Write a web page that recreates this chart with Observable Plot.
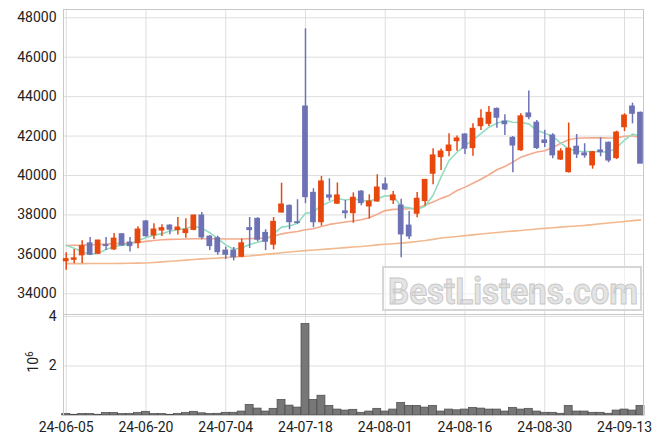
<!DOCTYPE html>
<html><head><meta charset="utf-8">
<script src="https://cdn.jsdelivr.net/npm/d3@7"></script>
<script src="https://cdn.jsdelivr.net/npm/@observablehq/plot@0.6"></script>
<style>
body{margin:0;background:#fff;}
#wrap{position:relative;width:663px;height:444px;font-family:Roboto,sans-serif;overflow:hidden;}
#wrap > svg{display:block;position:absolute;left:0;}
#wm{position:absolute;left:0;top:0;pointer-events:none;}
</style></head><body><div id="wrap"></div>
<script>
const dates = [
"2024-06-05","2024-06-07","2024-06-10","2024-06-11","2024-06-12","2024-06-13","2024-06-14","2024-06-17","2024-06-18","2024-06-19",
"2024-06-20","2024-06-21","2024-06-24","2024-06-25","2024-06-26","2024-06-27","2024-06-28","2024-07-01","2024-07-02","2024-07-03",
"2024-07-04","2024-07-05","2024-07-08","2024-07-09","2024-07-10","2024-07-11","2024-07-12","2024-07-15","2024-07-16","2024-07-17",
"2024-07-18","2024-07-19","2024-07-22","2024-07-23","2024-07-24","2024-07-25","2024-07-26","2024-07-29","2024-07-30","2024-07-31",
"2024-08-01","2024-08-02","2024-08-05","2024-08-06","2024-08-07","2024-08-08","2024-08-09","2024-08-12","2024-08-13","2024-08-14",
"2024-08-16","2024-08-19","2024-08-20","2024-08-21","2024-08-22","2024-08-23","2024-08-26","2024-08-27","2024-08-28","2024-08-29",
"2024-08-30","2024-09-02","2024-09-03","2024-09-04","2024-09-05","2024-09-06","2024-09-09","2024-09-10","2024-09-11","2024-09-12",
"2024-09-13","2024-09-19","2024-09-20"];
const opens = [
35650,35720,35950,36560,36030,36470,36250,37020,36600,36570,
37670,36960,37210,37460,37230,37080,37240,37970,36900,36820,
36190,36190,35880,37330,37800,37090,36490,38120,38460,37630,
43500,39120,37630,38990,38570,38180,38090,39180,38430,38680,
39550,38740,38480,37460,38060,38700,40090,40930,41240,41740,
42080,41390,42500,42620,43380,42730,41910,41280,43150,42680,
41780,42030,40810,40170,41460,41120,40510,41270,41660,40880,
42450,43500,43180];
const highs = [
36080,36250,36690,36860,36720,36850,37060,37050,36860,37400,
37720,37550,37500,37500,37870,37810,38000,38120,36960,36920,
36370,36350,36780,37870,37860,37250,37870,39610,38510,38770,
47440,39330,39950,39830,39620,38730,39120,39240,39020,40040,
39870,39190,38800,38170,39140,39800,41360,41350,42120,42000,
42120,42620,43330,43500,43430,43080,41980,43130,44280,42790,
42300,42120,41360,42660,42080,41610,41220,41910,41700,42250,
43130,43670,43220];
const lows = [
35200,35530,35540,35940,36000,36200,36190,36420,36120,36280,
36870,36750,36910,36990,36980,36820,37200,36740,36200,35950,
35740,35670,35830,36300,36640,36190,36230,38100,37250,37530,
38570,37350,37430,38700,38530,37800,37580,38460,37790,38650,
39240,38530,35830,36760,37860,38450,39530,40250,40950,41230,
41070,40980,42280,42480,42400,42030,40140,41230,42830,41320,
41420,40850,40760,40120,40860,40880,40320,40950,40650,40810,
42230,42620,40600];
const closes = [
35760,35800,36420,35980,36700,36420,36800,36450,36420,37260,
36920,37260,37330,37250,37360,37250,37970,36860,36420,36110,
35980,35850,36560,37230,36740,36640,37650,38530,37630,37590,
38900,37630,39700,38880,38990,38090,38870,38600,38680,39390,
39290,38990,37010,36910,38820,39780,41020,41220,41520,41880,
41360,42370,42880,43180,42930,42600,41520,43000,42960,41390,
41650,41020,41220,41360,41070,41020,41180,41190,40760,42180,
43040,43130,40600];
const volumes = [
60000,30000,60000,60000,30000,100000,100000,60000,60000,100000,
150000,60000,60000,30000,60000,100000,150000,90000,60000,70000,
110000,110000,160000,430000,280000,160000,270000,630000,400000,320000,
3700000,630000,800000,390000,240000,200000,230000,110000,160000,270000,
160000,240000,510000,390000,390000,320000,390000,160000,240000,210000,
240000,310000,280000,240000,240000,160000,310000,240000,270000,160000,
110000,110000,70000,390000,160000,160000,110000,110000,70000,200000,
240000,200000,390000];
const ma5 = [
36460,36310,36130,36000,36060,36250,36390,36470,36520,36700,
36840,36980,37040,37180,37260,37310,37430,37330,37100,36800,
36480,36260,36320,36500,36620,36720,37040,37380,37440,37580,
38080,38150,38480,38650,38830,38760,38820,38740,38700,38820,
38970,38960,38430,38360,38280,38440,39000,39920,40760,41180,
41520,41810,42120,42450,42650,42790,42700,42690,42620,42280,
42150,41980,41640,41350,41230,41220,41220,41190,41200,41400,
41800,42100,42000];
const ma20 = [
36450,36460,36470,36490,36500,36520,36540,36560,36580,36610,
36660,36700,36740,36760,36770,36780,36790,36790,36790,36790,
36780,36780,36780,36800,36810,36830,36910,37040,37110,37160,
37250,37300,37410,37520,37580,37640,37690,37760,37860,38030,
38220,38280,38290,38310,38330,38500,38660,38840,38990,39240,
39410,39610,39810,40040,40290,40460,40680,40930,41070,41190,
41260,41420,41630,41810,41890,41900,41910,41910,41900,41910,
41990,42020,41910];
const ma60 = [
35530,35530,35530,35535,35535,35540,35540,35545,35550,35555,
35560,35590,35620,35650,35680,35710,35740,35770,35790,35810,
35840,35870,35900,35920,35960,36000,36040,36080,36120,36160,
36190,36220,36250,36280,36310,36340,36370,36400,36440,36480,
36510,36540,36570,36610,36650,36700,36760,36830,36870,36910,
36950,36990,37030,37070,37110,37150,37180,37210,37250,37290,
37320,37350,37380,37410,37440,37470,37510,37550,37590,37630,
37670,37710,37750];
const priceTicks = [34000,36000,38000,40000,42000,44000,46000,48000];
const volTicks = [2000000,4000000];
const dateTicks = [0,10,20,30,40,50,60,70];

const data = dates.map((d,i)=>({i, date:d, open:opens[i], high:highs[i], low:lows[i], close:closes[i],
  volume:volumes[i], ma5:ma5[i], ma20:ma20[i], ma60:ma60[i]}));

const UP = "#e8470e", DOWN = "#6d72b5", GRID = "#dedede", FRAME = "#c8c8c8";
const xDomain = [-0.34, 72.38];
const candleColor = d => d.close >= d.open ? UP : DOWN;
const baseStyle = {fontFamily:"Roboto, sans-serif", fontSize:"14px", color:"#222", background:"transparent", overflow:"visible"};

const price = Plot.plot({
  width:663, height:314, marginTop:9, marginBottom:0, marginLeft:63, marginRight:20,
  style: baseStyle,
  color:{type:"identity"},
  x:{domain:xDomain, axis:null},
  y:{domain:[32950,48420], axis:null},
  marks:[
    Plot.gridX(dateTicks, {stroke:GRID, strokeOpacity:1}),
    Plot.gridY(priceTicks, {stroke:GRID, strokeOpacity:1}),
    Plot.frame({stroke:FRAME}),
    Plot.axisY(priceTicks, {tickSize:0, tickPadding:7, tickFormat:d=>String(d), label:null}),
    Plot.line(data, {x:"i", y:"ma60", stroke:"#f2b98e", strokeWidth:1.6}),
    Plot.line(data, {x:"i", y:"ma20", stroke:"#f3aa8c", strokeWidth:1.6}),
    Plot.line(data, {x:"i", y:"ma5", stroke:"#93dcc2", strokeWidth:1.6}),
    Plot.ruleX(data, {x:"i", y1:"low", y2:"high", stroke:candleColor, strokeWidth:1.5}),
    Plot.rect(data, {x1:d=>d.i-0.36, x2:d=>d.i+0.36, y1:"open", y2:"close", fill:candleColor, insetTop:-0.5, insetBottom:-0.5})
  ]
});

const vol = Plot.plot({
  width:663, height:130, marginTop:0, marginBottom:29, marginLeft:63, marginRight:20,
  style: baseStyle,
  x:{domain:xDomain, axis:null},
  y:{domain:[0,4080000], axis:null},
  marks:[
    Plot.gridX(dateTicks, {stroke:GRID, strokeOpacity:1}),
    Plot.gridY(volTicks, {stroke:GRID, strokeOpacity:1}),
    Plot.rectY(data, {x1:d=>d.i-0.5, x2:d=>d.i+0.5, y:"volume", fill:"#777777", stroke:"#4a4a4a", strokeWidth:0.7}),
    Plot.frame({stroke:FRAME}),
    Plot.axisY(volTicks, {tickSize:0, tickPadding:7, tickFormat:d=>String(d/1e6), label:null}),
    Plot.axisX(dateTicks, {tickSize:0, tickPadding:7, tickFormat:i=>dates[i].slice(2), label:null})
  ]
});

const wrap = document.getElementById("wrap");
price.style.top = "0px";
vol.style.top = "314px";
wrap.appendChild(price);
wrap.appendChild(vol);

// exponent label of the volume axis
const vs = d3.select(vol);
const lab = vs.append("text")
  .attr("transform","translate(38,48) rotate(-90)")
  .attr("text-anchor","middle")
  .attr("fill","#222")
  .style("font-size","14px");
lab.append("tspan").text("10");
lab.append("tspan").attr("dy","-5").style("font-size","10px").text("6");

// watermark
const wm = d3.select(wrap).append("svg").attr("id","wm").attr("width",663).attr("height",444);
wm.append("rect").attr("x",383).attr("y",267).attr("width",258).attr("height",43)
  .attr("fill","#ffffff").attr("fill-opacity",0.55).attr("stroke","#d6d6d6").attr("stroke-width",2);
wm.append("text").attr("x",388).attr("y",304).attr("textLength",250).attr("lengthAdjust","spacingAndGlyphs")
  .style("font-family","Roboto, sans-serif").style("font-weight","bold").style("font-size","36px")
  .attr("fill","#e4e4e4").attr("stroke","#c9c9c9").attr("stroke-width",1)
  .text("BestListens.com");
</script></body></html>
